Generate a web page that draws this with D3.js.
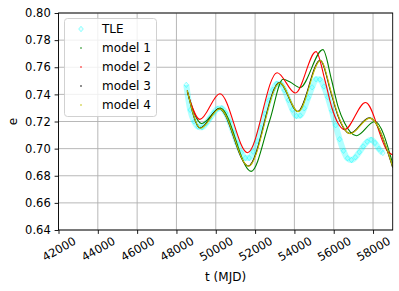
<!DOCTYPE html>
<html>
<head>
<meta charset="utf-8">
<script src="https://cdn.jsdelivr.net/npm/d3@7"></script>
<style>
  body { margin: 0; background: #fff; }
  svg { display: block; font-family: "DejaVu Sans", sans-serif; }
</style>
</head>
<body>
<div id="chart"></div>
<script>
// tick values
let xTicks = [42000, 44000, 46000, 48000, 50000, 52000, 54000, 56000, 58000]
let yTicks = [0.64, 0.66, 0.68, 0.70, 0.72, 0.74, 0.76, 0.78, 0.80]

// TLE observations (MJD, eccentricity)
let tleT = [48500, 48700, 48900, 49100, 49300, 49500, 49700, 49900, 50100, 50300,
            50500, 50700, 50900, 51100, 51300, 51500, 51700, 51900, 52100, 52300,
            52500, 52700, 52900, 53100, 53300, 53500, 53700, 53900, 54100, 54300,
            54500, 54700, 54900, 55100, 55300, 55500, 55700, 55900, 56100, 56300,
            56500, 56700, 56900, 57100, 57300, 57500, 57700, 57900, 58100, 58300, 58500]
let tleE = [0.7470, 0.7285, 0.7200, 0.7162, 0.7157, 0.7185, 0.7224, 0.7265, 0.7294, 0.7297,
            0.7262, 0.7198, 0.7119, 0.7038, 0.6971, 0.6931, 0.6931, 0.6977, 0.7055, 0.7153,
            0.7257, 0.7355, 0.7433, 0.7479, 0.7478, 0.7430, 0.7358, 0.7287, 0.7241, 0.7244,
            0.7297, 0.7375, 0.7452, 0.7512, 0.7510, 0.7458, 0.7379, 0.7280, 0.7172, 0.7069,
            0.6984, 0.6929, 0.6916, 0.6936, 0.6974, 0.7016, 0.7051, 0.7065, 0.7042, 0.6998, 0.6968]

// model 1 (green)
let m1T = [48550, 49280, 50230, 51800, 52750, 53420, 53800, 54280, 55450, 55890, 56220, 56560, 57150, 58090, 59000]
let m1E = [0.742, 0.7185, 0.7300, 0.6832, 0.7211, 0.7511, 0.7489, 0.7450, 0.7730, 0.7506, 0.7310, 0.7187, 0.7095, 0.7200, 0.6890]

// model 2 (red)
let m2T = [48550, 49190, 50210, 51620, 53120, 54050, 55100, 55550, 55890, 56220, 56550, 57620, 58760, 59000]
let m2E = [0.742, 0.7216, 0.7405, 0.6970, 0.7560, 0.7410, 0.7715, 0.7506, 0.7309, 0.7187, 0.7140, 0.7340, 0.6977, 0.6953]

// model 3 (black)
let m3T = [48550, 49210, 50180, 51650, 53240, 54170, 55310, 55870, 56200, 56830, 57810, 59000]
let m3E = [0.743, 0.7152, 0.7295, 0.6872, 0.7487, 0.7274, 0.7652, 0.7408, 0.7248, 0.7112, 0.7227, 0.6860]

// model 4 (yellow)
let m4T = [48550, 49230, 50200, 51670, 53260, 54190, 55330, 55890, 56220, 56850, 57830, 59000]
let m4E = [0.743, 0.7150, 0.7293, 0.6870, 0.7485, 0.7272, 0.7650, 0.7408, 0.7248, 0.7110, 0.7225, 0.6865]

let labels = ["TLE", "model 1", "model 2", "model 3", "model 4"]
let colors = ["#00ffff", "#008000", "#ff0000", "#000000", "#bfbf00"]

let svg_width = 399
let svg_height = 291
let padL = 58.5, padR = 392.7, padT = 13, padB = 230

let svg = d3.select("#chart")
  .append("svg")
  .attr("width", svg_width)
  .attr("height", svg_height)

let xScale = d3.scaleLinear().domain([42000, 59000]).range([padL, padR])
let yScale = d3.scaleLinear().domain([0.64, 0.80]).range([padB, padT])

// grid
svg.append("g").selectAll("line")
  .data(xTicks).enter().append("line")
  .attr("x1", d => xScale(d)).attr("x2", d => xScale(d))
  .attr("y1", padT).attr("y2", padB)
  .attr("stroke", "#b0b0b0").attr("stroke-width", 0.9)
svg.append("g").selectAll("line")
  .data(yTicks).enter().append("line")
  .attr("x1", padL).attr("x2", padR)
  .attr("y1", d => yScale(d)).attr("y2", d => yScale(d))
  .attr("stroke", "#b0b0b0").attr("stroke-width", 0.9)

svg.append("clipPath").attr("id", "clip")
  .append("rect")
  .attr("x", padL).attr("y", padT)
  .attr("width", padR - padL).attr("height", padB - padT)

let plot = svg.append("g").attr("clip-path", "url(#clip)")

let line = d3.line()
  .x(d => xScale(d[0]))
  .y(d => yScale(d[1]))
  .curve(d3.curveMonotoneX)

// TLE: a pale band plus open diamonds
let tle = d3.zip(tleT, tleE)
plot.append("path")
  .datum(tle)
  .attr("d", line)
  .attr("fill", "none")
  .attr("stroke", "#00ffff")
  .attr("stroke-opacity", 0.3)
  .attr("stroke-width", 6)

let diamond = "M0,-2.7L2.3,0L0,2.7L-2.3,0Z"
plot.append("g").selectAll("path")
  .data(tle).enter().append("path")
  .attr("d", diamond)
  .attr("transform", d => `translate(${xScale(d[0])},${yScale(d[1])})`)
  .attr("fill", "#00ffff").attr("fill-opacity", 0.1)
  .attr("stroke", "#00ffff").attr("stroke-opacity", 0.5)
  .attr("stroke-width", 0.8)

let models = [d3.zip(m1T, m1E), d3.zip(m2T, m2E), d3.zip(m3T, m3E), d3.zip(m4T, m4E)]
models.forEach((m, i) => {
  plot.append("path")
    .datum(m)
    .attr("d", line)
    .attr("fill", "none")
    .attr("stroke", colors[i + 1])
    .attr("stroke-width", 1.1)
})

// axes
function styleAxis(g) {
  g.select(".domain").remove()
  g.selectAll(".tick line").attr("stroke", "#000").attr("stroke-width", 0.9)
  g.selectAll(".tick text").attr("fill", "#000").style("font-size", "11.5px")
    .style("font-family", "DejaVu Sans, sans-serif")
}

let xAxis = svg.append("g")
  .attr("transform", `translate(0,${padB})`)
  .call(d3.axisBottom(xScale).tickValues(xTicks).tickSize(3.9).tickFormat(d3.format("d")))
  .call(styleAxis)
xAxis.selectAll(".tick text")
  .attr("y", null).attr("dy", null)
  .attr("text-anchor", "middle")
  .attr("dominant-baseline", "central")
  .attr("transform", "translate(0,19) rotate(-30)")

svg.append("g")
  .attr("transform", `translate(${padL},0)`)
  .call(d3.axisLeft(yScale).tickValues(yTicks).tickSize(3.9).tickPadding(3.9).tickFormat(d3.format(".2f")))
  .call(styleAxis)

// frame
svg.append("rect")
  .attr("x", padL).attr("y", padT)
  .attr("width", padR - padL).attr("height", padB - padT)
  .attr("fill", "none").attr("stroke", "#000").attr("stroke-width", 0.9)

// axis labels
svg.append("text")
  .attr("x", (padL + padR) / 2).attr("y", 281)
  .attr("text-anchor", "middle")
  .style("font-size", "12px")
  .text("t (MJD)")
svg.append("text")
  .attr("transform", `translate(16.5,${(padT + padB) / 2}) rotate(-90)`)
  .attr("text-anchor", "middle")
  .style("font-size", "12px")
  .text("e")

// legend
let legend = svg.append("g")
legend.append("rect")
  .attr("x", 64.5).attr("y", 18.5)
  .attr("width", 92).attr("height", 98)
  .attr("rx", 3)
  .attr("fill", "#fff").attr("fill-opacity", 0.8)
  .attr("stroke", "#cccccc").attr("stroke-width", 0.9)

let items = legend.selectAll("g.item")
  .data(labels).enter().append("g")
  .attr("transform", (d, i) => `translate(81,${29 + i * 19})`)
items.filter(d => d === "TLE").append("path")
  .attr("d", diamond)
  .attr("fill", "#00ffff").attr("fill-opacity", 0.1)
  .attr("stroke", "#00ffff").attr("stroke-opacity", 0.55)
  .attr("stroke-width", 0.8)
items.filter(d => d !== "TLE").append("circle")
  .attr("r", 0.8)
  .attr("fill", d => colors[labels.indexOf(d)])
items.append("text")
  .attr("x", 21).attr("dy", "0.36em")
  .style("font-size", "12px")
  .text(d => d)
</script>
</body>
</html>
